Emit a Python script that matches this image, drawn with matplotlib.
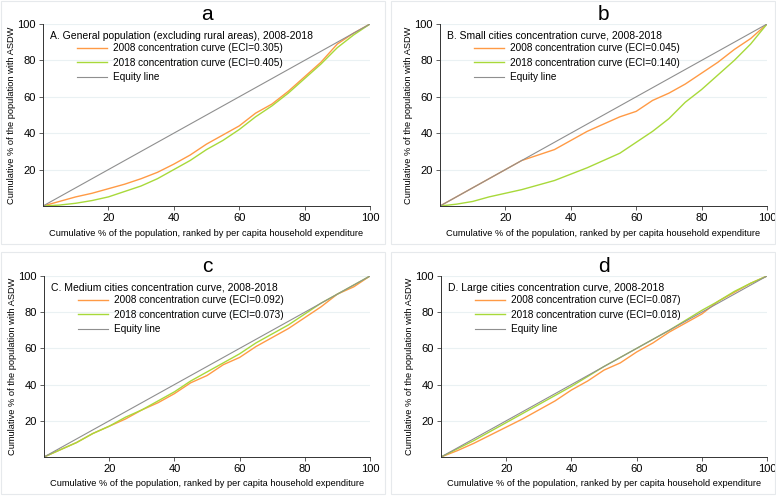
import matplotlib
matplotlib.use("Agg")
from matplotlib import pyplot as plt
from matplotlib.patches import Rectangle
import numpy as np

# population share (x) and cumulative % with ASDW (y) for each panel
x = [0, 5, 10, 15, 20, 25, 30, 35, 40, 45, 50, 55, 60, 65, 70, 75, 80, 85, 90, 95, 100]

a_2008 = [0, 2.5, 5, 7, 9.5, 12, 15, 18.5, 23, 28, 34, 39, 44, 51, 56, 63, 71, 79, 89, 95, 100]
a_2018 = [0, 0.5, 1.5, 3, 5, 8, 11, 15, 20, 25, 31, 36, 42, 49, 55, 62, 70, 78, 87, 94, 100]

b_2008 = [0, 5, 10, 15, 20, 25, 28, 31, 36, 41, 45, 49, 52, 58, 62, 67, 73, 79, 86, 92, 100]
b_2018 = [0, 1, 2.5, 5, 7, 9, 11.5, 14, 17.5, 21, 25, 29, 35, 41, 48, 57, 64, 72, 80, 89, 100]

c_2008 = [0, 4, 8, 13, 17, 21, 26, 30, 35, 41, 45, 51, 55, 61, 66, 71, 77, 83, 90, 94, 100]
c_2018 = [0, 4, 8, 13, 17, 22, 26, 31, 36, 42, 47, 52, 57, 63, 68, 73, 79, 85, 90, 95, 100]

d_2008 = [0, 3.5, 7.5, 12, 16.5, 21, 26, 31, 37, 42, 48, 52, 58, 63, 69, 74, 79, 86, 91, 96, 100]
d_2018 = [0, 4.5, 9, 14, 19, 24, 29, 34, 39, 44.5, 50, 55, 60, 65, 70, 75.5, 81, 86, 91.5, 96, 100]

letters = ["a", "b", "c", "d"]
titles = ["A. General population (excluding rural areas), 2008-2018",
          "B. Small cities concentration curve, 2008-2018",
          "C. Medium cities concentration curve, 2008-2018",
          "D. Large cities concentration curve, 2008-2018"]
eci_2008 = ["0.305", "0.045", "0.092", "0.087"]
eci_2018 = ["0.405", "0.140", "0.073", "0.018"]
series = [(a_2008, a_2018), (b_2008, b_2018), (c_2008, c_2018), (d_2008, d_2018)]

W, H = 776, 496
fig = plt.figure(figsize=(W / 100, H / 100), dpi=100)
plt.rcParams['font.family'] = ['Liberation Sans', 'DejaVu Sans']

# axes boxes in pixels: left, top, right, bottom
boxes = [(43, 24, 370, 206), (440, 24, 767, 206),
         (44, 276, 370, 457), (441, 276, 767, 457)]
frames = [(1, 1, 385, 244), (391, 1, 775, 244),
          (1, 252, 385, 494), (391, 252, 775, 494)]

for fr in frames:
    fig.patches.append(Rectangle((fr[0] / W, 1 - fr[3] / H), (fr[2] - fr[0]) / W,
                                 (fr[3] - fr[1]) / H, transform=fig.transFigure,
                                 fill=False, edgecolor="#e6e9ec", linewidth=0.8))

for i in range(4):
    l, t, r, b = boxes[i]
    ax = fig.add_axes([l / W, 1 - b / H, (r - l) / W, (b - t) / H])
    y08, y18 = series[i]
    ax.plot(x, y08, color="#ff9a45", linewidth=1.0,
            label="2008 concentration curve (ECI=%s)" % eci_2008[i])
    ax.plot(x, y18, color="#a8d93a", linewidth=1.0,
            label="2018 concentration curve (ECI=%s)" % eci_2018[i])
    ax.plot([0, 100], [0, 100], color="#8f8f8f", linewidth=0.8, label="Equity line")
    ax.set_xlim(0, 100)
    ax.set_ylim(0, 100)
    ax.set_xticks([20, 40, 60, 80, 100])
    ax.set_yticks([20, 40, 60, 80, 100])
    ax.tick_params(labelsize=8, length=3, width=0.6, color="#444444", pad=2)
    for s in ["top", "right"]:
        ax.spines[s].set_visible(False)
    for s in ["left", "bottom"]:
        ax.spines[s].set_linewidth(0.7)
        ax.spines[s].set_color("#333333")
    ax.grid(axis="y", color="#eaf1f3", linewidth=0.8)
    ax.set_axisbelow(True)
    ax.set_xlabel("Cumulative % of the population, ranked by per capita household expenditure",
                  fontsize=6.7, labelpad=4)
    ax.set_ylabel("Cumulative % of the population with ASDW", fontsize=6.7, labelpad=1)
    ax.text(0.022, 0.935, titles[i], transform=ax.transAxes, fontsize=7.5,
            ha="left", va="center")
    ax.legend(loc="upper left", bbox_to_anchor=(0.105, 0.895), frameon=False,
              fontsize=7.2, handlelength=3.0, borderaxespad=0, borderpad=0,
              labelspacing=0.45, handletextpad=0.55)
    ax.set_title(letters[i], fontsize=15, pad=0)

fig.savefig("out.png", dpi=100)
